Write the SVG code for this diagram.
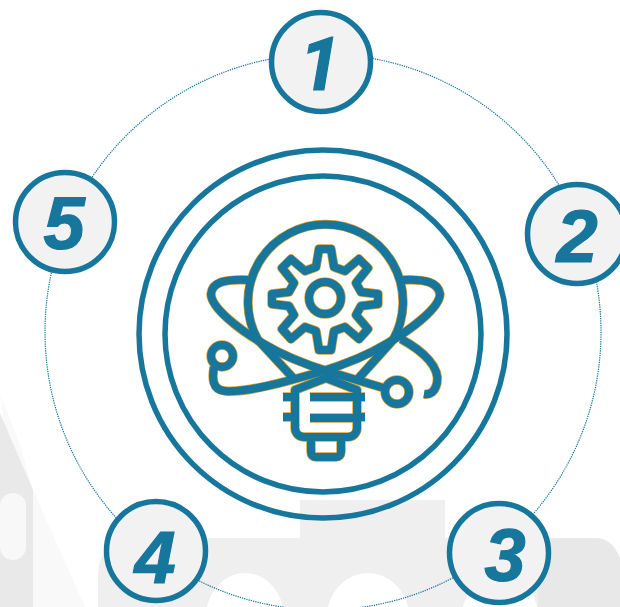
<svg xmlns="http://www.w3.org/2000/svg" width="620" height="607" viewBox="0 0 620 607">
<defs>
<style>
.node{fill:#f2f2f2;stroke:#17769b;stroke-width:5.5}
.num{font-family:"Liberation Sans",Arial,sans-serif;font-weight:bold;font-style:italic;font-size:74px;fill:#17769b;stroke:#17769b;stroke-width:1.2;text-anchor:middle}
.one{font-family:Roboto,"Liberation Sans",sans-serif}
.ring{fill:none;stroke:#17769b;stroke-width:5.5}
.halo{fill:none;stroke:#dba32e;stroke-width:9.4;stroke-linejoin:round}
.core{fill:none;stroke:#17769b;stroke-width:8;stroke-linejoin:round}
</style>
<filter id="soft" x="-5%" y="-5%" width="110%" height="110%"><feGaussianBlur stdDeviation="0.45"/></filter>
<g id="glyph">
<path d="M258 340A77.5 77.5 0 1 1 393 340"/>
<path d="M258 340L295 380M393 340L357 380"/>
<path d="M319 249L331 249L334 267L345 271L359 259L368 268L356 283L361 292L378 294L378 304L361 306L356 315L368 329L359 339L345 327L334 331L331 350L319 350L316 331L305 327L291 339L282 329L294 315L289 306L272 304L272 294L289 292L294 283L282 268L291 259L305 271L316 267Z"/>
<circle cx="325" cy="298" r="16"/>
<path d="M248 280C225 279 212 282 211 294C211 308 240 330 262 343C285 357 310 366 330 372C350 378 370 384 387 389"/>
<path d="M403 280C425 279 438 282 440 294C440 308 410 330 388 343C365 357 340 366 320 372C285 382 245 393 225 391C212 390 212 378 214 367"/>
<path d="M401 339C425 352 440 368 437 383C435 392 430 395 424 394"/>
<circle cx="222" cy="356" r="11"/>
<circle cx="397" cy="392" r="12"/>
<path d="M326 378L295 390L295 428C295 433 299 437 304 437L348 437C353 437 357 433 357 428L357 390Z"/>
<path d="M283 397L295 397M283 417L295 417M357 397L365 397M357 417L365 417"/>
<path d="M310 397L357 397M310 418L357 418"/>
<path d="M311 437L311 452C311 455 313 457 316 457L336 457C339 457 341 455 341 452L341 437"/>
</g>
</defs>
<g id="background">
<rect width="620" height="607" fill="#fff"/>
<path d="M0 396C14 425 25 460 33 490L85 607L33 607Z" fill="#f9f9f9"/>
<path d="M0 413L33 490L33 607L0 607Z" fill="#e9e9e9"/>
<rect x="0" y="493" width="26" height="67" rx="13" fill="#f8f8f8"/>
<path d="M98 607L98 578C98 552 110 538 136 538L300 538L300 500L445 500L445 538L598 538C610 540 616 548 620 558L620 607Z" fill="#efefef"/>
<path d="M538 538L598 538C610 540 616 548 620 558L620 607L538 607Z" fill="#e8e8e8"/>
<ellipse cx="245" cy="617" rx="39" ry="44" fill="#fff"/>
<ellipse cx="368" cy="617" rx="41" ry="44" fill="#fff"/>
<ellipse cx="500" cy="617" rx="38" ry="44" fill="#fff"/>
</g>
<g id="connectors">
<circle cx="323" cy="332" r="278" fill="none" stroke="#17769b" stroke-width="1.2" stroke-dasharray="1.3 1"/>
</g>
<g id="center">
<circle cx="323" cy="334" r="184" fill="#fff" class="ring"/>
<circle cx="323" cy="334" r="158" class="ring"/>
<g filter="url(#soft)">
<use href="#glyph" class="halo"/>
<use href="#glyph" class="core"/>
</g>
</g>
<g id="node1"><circle class="node" cx="321" cy="62" r="49.5"/><text class="num one" x="320" y="90">1</text></g>
<g id="node2"><circle class="node" cx="577" cy="234" r="49.5"/><text class="num" x="577" y="262">2</text></g>
<g id="node3"><circle class="node" cx="499" cy="553" r="49.5"/><text class="num" x="505" y="581">3</text></g>
<g id="node4"><circle class="node" cx="156" cy="551" r="49.5"/><text class="num" x="155" y="583">4</text></g>
<g id="node5"><circle class="node" cx="65" cy="222" r="49.5"/><text class="num" x="64" y="249">5</text></g>
</svg>
